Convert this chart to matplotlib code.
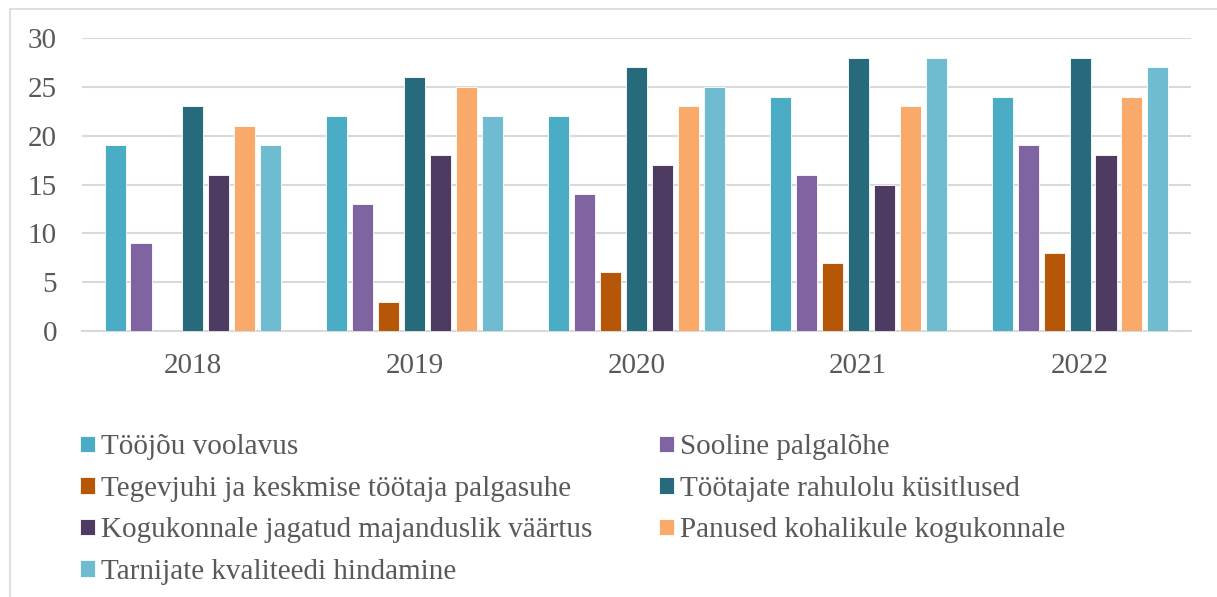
import matplotlib
matplotlib.use("Agg")
import matplotlib.pyplot as plt
import numpy as np
from matplotlib.patches import Rectangle

years = ["2018", "2019", "2020", "2021", "2022"]
series_names = [
    "Tööjõu voolavus",
    "Sooline palgalõhe",
    "Tegevjuhi ja keskmise töötaja palgasuhe",
    "Töötajate rahulolu küsitlused",
    "Kogukonnale jagatud majanduslik väärtus",
    "Panused kohalikule kogukonnale",
    "Tarnijate kvaliteedi hindamine",
]
toojou = [19, 22, 22, 24, 24]
sooline = [9, 13, 14, 16, 19]
tegevjuhi = [0, 3, 6, 7, 8]
rahulolu = [23, 26, 27, 28, 28]
kogukonnale = [16, 18, 17, 15, 18]
panused = [21, 25, 23, 23, 24]
tarnijate = [19, 22, 25, 28, 27]
series = [toojou, sooline, tegevjuhi, rahulolu, kogukonnale, panused, tarnijate]
colors = ["#4BACC6", "#8064A2", "#B65708", "#276A7C", "#4E3B61", "#F9A96A", "#6FBCD0"]

plt.rcParams["font.family"] = ["Liberation Serif", "DejaVu Serif"]
text_color = "#595959"

fig = plt.figure(figsize=(12.17, 5.97), dpi=100)
ax = fig.add_axes([0.0674, 0.4456, 0.9112, 0.4907])

x = np.arange(len(years))
slot = 0.117      # spacing between bars in a group
bar_w = 0.095     # visible bar width
handles = []
for i, (vals, col) in enumerate(zip(series, colors)):
    offs = (i - 3) * slot
    b = ax.bar(x + offs, vals, width=bar_w, color=col, edgecolor="white",
               linewidth=0.6, label=series_names[i], zorder=3)
    handles.append(b)

ax.set_xlim(-0.5, len(years) - 0.5)
ax.set_ylim(0, 30)
ax.set_yticks(range(0, 31, 5))
ax.set_xticks(x)
ax.set_xticklabels(years)
ax.grid(axis="y", color="#D9D9D9", linewidth=1.5, zorder=0)
for s in ["top", "right", "left"]:
    ax.spines[s].set_visible(False)
ax.spines["bottom"].set_color("#D9D9D9")
ax.spines["bottom"].set_linewidth(1.5)
ax.tick_params(axis="y", length=0, pad=18, labelsize=21, labelcolor=text_color)
ax.tick_params(axis="x", length=0, pad=16, labelsize=21, labelcolor=text_color)

# legend in row-major order across two columns
order = [0, 2, 4, 6, 1, 3, 5]
leg = fig.legend([handles[i] for i in order], [series_names[i] for i in order],
                 ncol=2, loc="upper left", bbox_to_anchor=(0.0561, 0.292),
                 frameon=False, fontsize=21, handlelength=0.51, handleheight=0.51,
                 handletextpad=0.2, columnspacing=2.3, labelspacing=0.53,
                 borderaxespad=0)
for t in leg.get_texts():
    t.set_color(text_color)

# outer chart border
fig.patches.append(Rectangle((10 / 1217, -0.05), 1.2, 1 - 9 / 597 + 0.05,
                             transform=fig.transFigure, fill=False,
                             edgecolor="#D9D9D9", linewidth=1.2))

fig.savefig("out.png", dpi=100)
